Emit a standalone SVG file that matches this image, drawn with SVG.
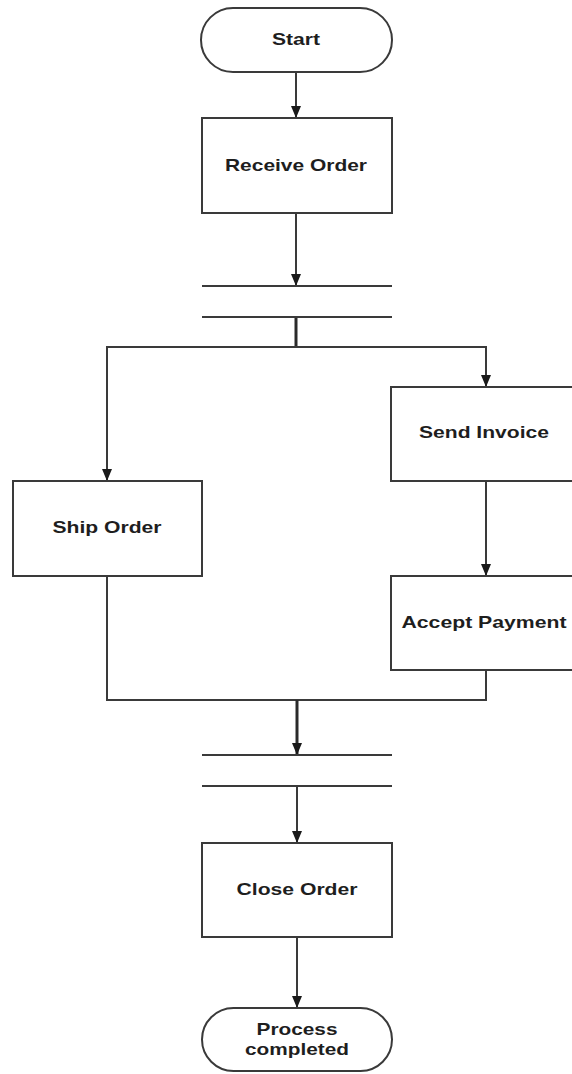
<svg xmlns="http://www.w3.org/2000/svg" width="572" height="1074" viewBox="0 0 572 1074">
  <style>
    .shape { fill: #ffffff; stroke: #3a3a3a; stroke-width: 2; }
    .bar { stroke: #3a3a3a; stroke-width: 2; fill: none; }
    .edge { stroke: #3a3a3a; stroke-width: 2; fill: none; }
    .stem { stroke: #2a2a2a; stroke-width: 3; fill: none; }
    .label { font-family: "Liberation Sans", Arial, sans-serif; font-weight: bold; font-size: 17px; fill: #1e1e1e; text-anchor: middle; }
  </style>
  <defs>
    <marker id="arrow" viewBox="0 0 12 10" refX="12" refY="5" markerWidth="12" markerHeight="11" markerUnits="userSpaceOnUse" orient="auto">
      <path d="M0,0 L12,5 L0,10 Z" fill="#1a1a1a"/>
    </marker>
  </defs>
  <rect width="572" height="1074" fill="#ffffff"/>

  <!-- connectors -->
  <g id="connectors">
    <line class="edge" x1="296" y1="72" x2="296" y2="118" marker-end="url(#arrow)"/>
    <line class="edge" x1="296" y1="213" x2="296" y2="286" marker-end="url(#arrow)"/>
    <line class="stem" x1="296" y1="317" x2="296" y2="347"/>
    <polyline class="edge" points="296,347 107,347 107,481" marker-end="url(#arrow)"/>
    <polyline class="edge" points="296,347 486,347 486,387" marker-end="url(#arrow)"/>
    <line class="edge" x1="486" y1="481" x2="486" y2="576" marker-end="url(#arrow)"/>
    <polyline class="edge" points="107,576 107,700 486,700 486,670"/>
    <line class="stem" x1="297" y1="700" x2="297" y2="755" marker-end="url(#arrow)"/>
    <line class="edge" x1="297" y1="786" x2="297" y2="843" marker-end="url(#arrow)"/>
    <line class="edge" x1="297" y1="937" x2="297" y2="1008" marker-end="url(#arrow)"/>
  </g>

  <g id="start">
    <rect class="shape" x="201" y="8" width="191" height="64" rx="32" ry="32"/>
    <text class="label" x="296" y="45" textLength="48" lengthAdjust="spacingAndGlyphs">Start</text>
  </g>

  <g id="receive-order">
    <rect class="shape" x="202" y="118" width="190" height="95"/>
    <text class="label" x="296" y="171" textLength="142" lengthAdjust="spacingAndGlyphs">Receive Order</text>
  </g>

  <g id="fork">
    <line class="bar" x1="202" y1="286" x2="392" y2="286"/>
    <line class="bar" x1="202" y1="317" x2="392" y2="317"/>
  </g>

  <g id="ship-order">
    <rect class="shape" x="13" y="481" width="189" height="95"/>
    <text class="label" x="107" y="533" textLength="109" lengthAdjust="spacingAndGlyphs">Ship Order</text>
  </g>

  <g id="send-invoice">
    <rect class="shape" x="391" y="387" width="200" height="94"/>
    <text class="label" x="484" y="438" textLength="130" lengthAdjust="spacingAndGlyphs">Send Invoice</text>
  </g>

  <g id="accept-payment">
    <rect class="shape" x="391" y="576" width="200" height="94"/>
    <text class="label" x="484" y="628" textLength="165" lengthAdjust="spacingAndGlyphs">Accept Payment</text>
  </g>

  <g id="join">
    <line class="bar" x1="202" y1="755" x2="392" y2="755"/>
    <line class="bar" x1="202" y1="786" x2="392" y2="786"/>
  </g>

  <g id="close-order">
    <rect class="shape" x="202" y="843" width="190" height="94"/>
    <text class="label" x="297" y="895" textLength="121" lengthAdjust="spacingAndGlyphs">Close Order</text>
  </g>

  <g id="process-completed">
    <rect class="shape" x="202" y="1008" width="190" height="63" rx="31.5" ry="31.5"/>
    <text class="label" x="297" y="1035" textLength="81" lengthAdjust="spacingAndGlyphs">Process</text>
    <text class="label" x="297" y="1055" textLength="104" lengthAdjust="spacingAndGlyphs">completed</text>
  </g>
</svg>
